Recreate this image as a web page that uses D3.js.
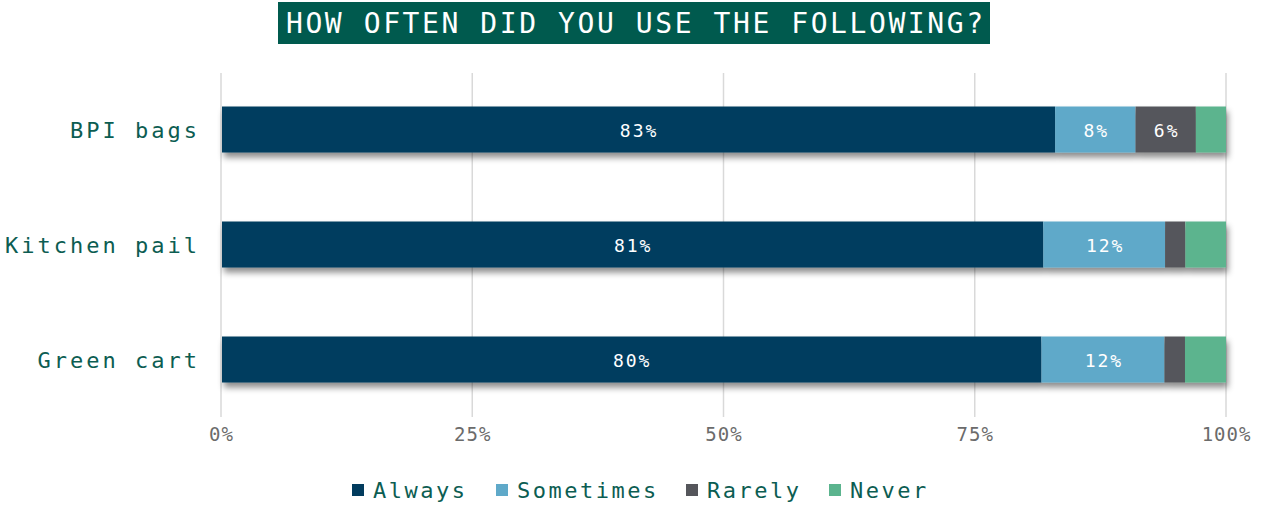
<!doctype html>
<html>
<head>
    <meta charset="UTF-8">
    <title>How often did you use the following?</title>
    <script src="https://d3js.org/d3.v7.min.js"></script>
    <style>
        body { margin: 0; background: #fff; }
        text { font-family: "DejaVu Sans Mono", monospace; }
    </style>
</head>
<body>
    <svg width="1263" height="508"></svg>
    <script>
        var categories = ["BPI bags", "Kitchen pail", "Green cart"];
        var seriesNames = ["Always", "Sometimes", "Rarely", "Never"];
        var always = [83, 81, 80];
        var sometimes = [8, 12, 12];
        var rarely = [6, 2, 2];
        var never = [3, 4, 4];
        var tickValues = [0, 0.25, 0.5, 0.75, 1];
        var colors = ["#023c5e", "#5fa9c9", "#55565b", "#5bb48e"];

        var svg = d3.select("svg");

        // shadow under bars
        var defs = svg.append("defs");
        defs.append("filter").attr("id", "shadow")
            .attr("x", "-5%").attr("y", "-20%").attr("width", "110%").attr("height", "160%")
            .append("feDropShadow")
            .attr("dx", 2).attr("dy", 5).attr("stdDeviation", 3)
            .attr("flood-color", "#000").attr("flood-opacity", 0.45);

        // title
        svg.append("rect").attr("x", 278).attr("y", 2).attr("width", 712).attr("height", 42).attr("fill", "#005a4e");
        svg.append("text").attr("x", 286).attr("y", 33)
            .attr("textLength", 697).attr("lengthAdjust", "spacing")
            .attr("font-size", 28).attr("fill", "#fff")
            .text("HOW OFTEN DID YOU USE THE FOLLOWING?");

        var x = d3.scaleLinear().domain([0, 1]).range([221, 1226]);
        var y = d3.scaleBand().domain(categories).range([72, 417]).paddingInner(0.6).paddingOuter(0.3);

        // gridlines
        svg.append("g").selectAll("line").data(tickValues).enter().append("line")
            .attr("x1", function (d) { return x(d); })
            .attr("x2", function (d) { return x(d); })
            .attr("y1", 73).attr("y2", 417)
            .attr("stroke", "#d9d9d9").attr("stroke-width", 1.5);

        // stacked rows
        var rows = categories.map(function (c, i) {
            var vals = [always[i], sometimes[i], rarely[i], never[i]];
            var total = d3.sum(vals);
            var acc = 0;
            return vals.map(function (v, j) {
                var seg = { cat: c, v: v, s: j, x0: acc / total, x1: (acc + v) / total };
                acc += v;
                return seg;
            });
        });

        var rowG = svg.append("g").selectAll("g").data(rows).enter().append("g")
            .attr("filter", "url(#shadow)");
        rowG.selectAll("rect").data(function (d) { return d; }).enter().append("rect")
            .attr("x", function (d) { return x(d.x0) + (d.s === 0 ? 1 : 0); })
            .attr("width", function (d) { return x(d.x1) - x(d.x0) - (d.s === 0 ? 1 : 0); })
            .attr("y", function (d) { return y(d.cat); })
            .attr("height", y.bandwidth())
            .attr("fill", function (d) { return colors[d.s]; });

        var lblG = svg.append("g").selectAll("g").data(rows).enter().append("g");
        lblG.selectAll("text").data(function (d) { return d.filter(function (s) { return s.v >= 5; }); })
            .enter().append("text")
            .attr("x", function (d) { return (x(d.x0) + x(d.x1)) / 2 + 1; })
            .attr("y", function (d) { return y(d.cat) + y.bandwidth() / 2 + 7; })
            .attr("text-anchor", "middle")
            .attr("font-size", 18).attr("letter-spacing", 2)
            .attr("fill", "#fff")
            .text(function (d) { return d.v + "%"; });

        // category labels
        svg.append("g").selectAll("text").data(categories).enter().append("text")
            .attr("x", 200)
            .attr("y", function (d) { return y(d) + y.bandwidth() / 2 + 8; })
            .attr("text-anchor", "end")
            .attr("font-size", 22).attr("letter-spacing", 3)
            .attr("fill", "#0c5d52")
            .text(function (d) { return d; });

        // x axis
        var axis = svg.append("g").attr("transform", "translate(0,424)")
            .call(d3.axisBottom(x).tickValues(tickValues).tickFormat(d3.format(".0%")).tickSize(0));
        axis.select(".domain").remove();
        axis.selectAll("text")
            .attr("font-family", "DejaVu Sans Mono").attr("font-size", 19)
            .attr("letter-spacing", 1).attr("fill", "#6b6b6b")
            .attr("dy", "0.71em");

        // legend
        var legX = [352, 496, 686, 829];
        var leg = svg.append("g").selectAll("g").data(seriesNames).enter().append("g")
            .attr("transform", function (d, i) { return "translate(" + legX[i] + ",0)"; });
        leg.append("rect").attr("x", 0).attr("y", 484).attr("width", 12).attr("height", 12)
            .attr("fill", function (d, i) { return colors[i]; });
        leg.append("text").attr("x", 21).attr("y", 498)
            .attr("font-size", 22).attr("letter-spacing", 2.5)
            .attr("fill", "#0c5d52")
            .text(function (d) { return d; });
    </script>
</body>
</html>
